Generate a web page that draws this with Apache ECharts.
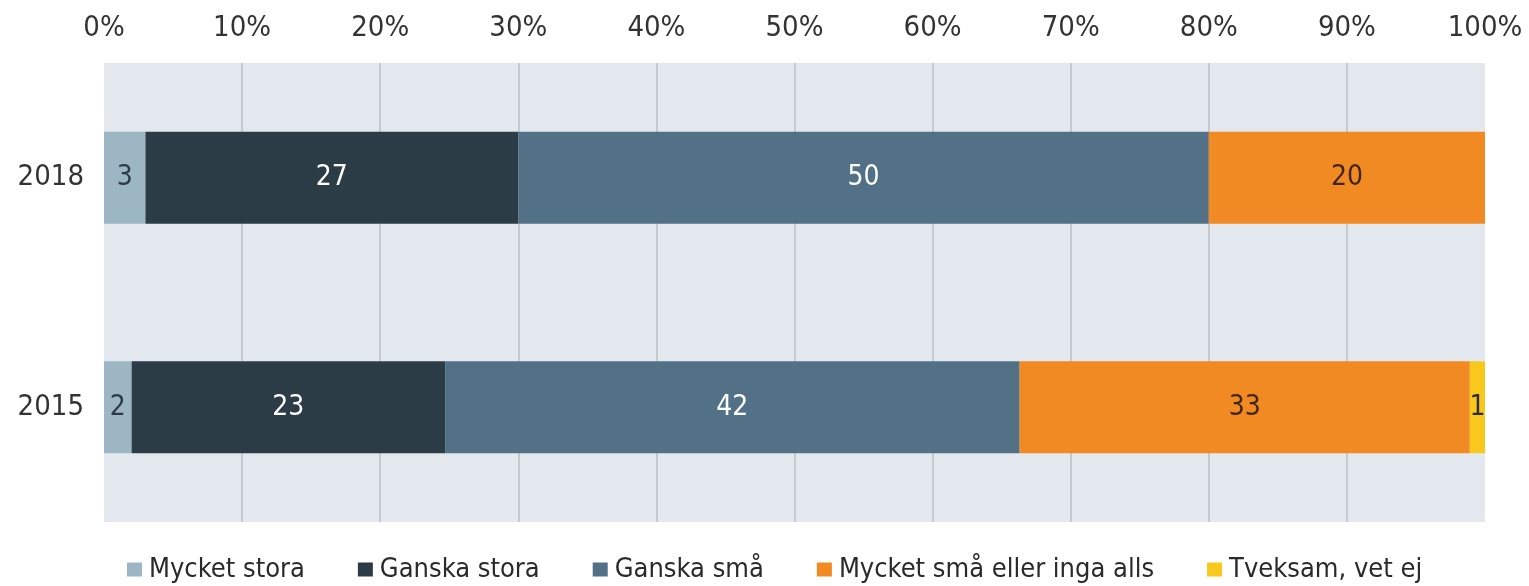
<!DOCTYPE html>
<html>
<head>
<meta charset="utf-8">
<script src="https://cdn.jsdelivr.net/npm/echarts@6/dist/echarts.min.js"></script>
<style>
  html,body{margin:0;padding:0;background:#fff;}
  #cus_chart{width:1529px;height:586px;}
</style>
</head>
<body>
<div id="cus_chart"></div>
<script>
// years (bottom to top, category axis starts at the bottom)
var years = ['2015', '2018'];
var seriesNames = ['Mycket stora', 'Ganska stora', 'Ganska små', 'Mycket små eller inga alls', 'Tveksam, vet ej'];
// values per series, same order as years
var mycketStora = [2, 3];
var ganskaStora = [22.7, 27];
var ganskaSma = [41.6, 50];
var mycketSma = [32.6, 20];
var tveksam = [1.1, 0];
var tickLabels = ['0%', '10%', '20%', '30%', '40%', '50%', '60%', '70%', '80%', '90%', '100%'];

var colors = ['#9db6c4', '#2c3c47', '#537186', '#f28a24', '#f8c81c'];
var labelColors = ['#2c3c47', '#ffffff', '#ffffff', '#3f2610', '#2c2c2c'];
var font = "'DejaVu Sans Condensed', 'DejaVu Sans', sans-serif";

var myChart = echarts.init(document.getElementById('cus_chart'));

function makeSeries(i, data) {
    return {
        name: seriesNames[i],
        type: 'bar',
        stack: 'total',
        barWidth: 92,
        data: data,
        itemStyle: {color: colors[i]},
        label: {
            show: true,
            position: 'inside',
            color: labelColors[i],
            fontFamily: font,
            fontSize: 28,
            formatter: function (p) {
                return p.value > 0 ? Math.round(p.value) : '';
            }
        }
    };
}

var options = {
    animation: false,
    grid: {
        left: 104,
        right: 44,
        top: 63,
        bottom: 64,
        show: true,
        backgroundColor: '#e3e8ef',
        borderWidth: 0
    },
    legend: {
        top: 551,
        left: 122,
        itemWidth: 15,
        itemHeight: 14,
        itemGap: 53,
        icon: 'rect',
        textStyle: {fontFamily: font, fontSize: 27, color: '#2a2a2a', padding: [0, 0, 0, 2]},
        data: seriesNames
    },
    xAxis: {
        type: 'value',
        position: 'top',
        min: 0,
        max: 100,
        interval: 10,
        axisLine: {show: false},
        axisTick: {show: false},
        splitLine: {showMinLine: false, showMaxLine: false, lineStyle: {color: '#c6cacf', width: 2}},
        axisLabel: {
            margin: 20,
            fontFamily: font,
            fontSize: 29,
            color: '#333',
            formatter: function (v) { return tickLabels[v / 10]; }
        }
    },
    yAxis: {
        type: 'category',
        data: years,
        axisLine: {show: false},
        axisTick: {show: false},
        axisLabel: {margin: 20, fontFamily: font, fontSize: 29, color: '#333'}
    },
    series: [
        makeSeries(0, mycketStora),
        makeSeries(1, ganskaStora),
        makeSeries(2, ganskaSma),
        makeSeries(3, mycketSma),
        makeSeries(4, tveksam)
    ]
};
myChart.setOption(options, true);
</script>
</body>
</html>
